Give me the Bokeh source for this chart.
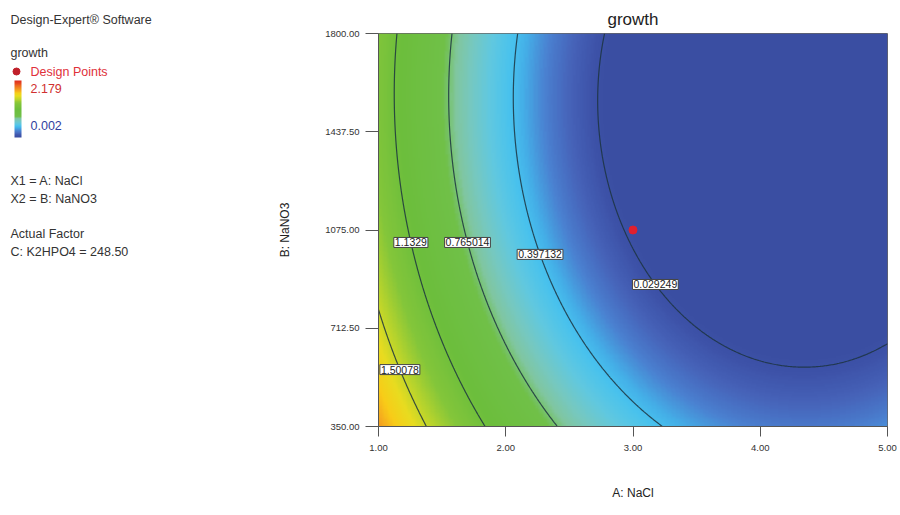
import numpy as np
from bokeh.plotting import figure
from bokeh.models import Range1d, FixedTicker, NumeralTickFormatter, LinearColorMapper, ColumnDataSource
from bokeh.layouts import row
from bokeh.embed import file_html
from bokeh.resources import INLINE
from bokeh.core.properties import value

# ---------------- data ----------------
title_text = "growth"
x_label = "A: NaCl"
y_label = "B: NaNO3"
nacl_ticks = [1.0, 2.0, 3.0, 4.0, 5.0]
nano3_ticks = [350.0, 712.5, 1075.0, 1437.5, 1800.0]
contour_levels = [0.029249, 0.397132, 0.765014, 1.1329, 1.50078]
contour_texts = ["0.029249", "0.397132", "0.765014", "1.1329", "1.50078"]
response_min = 0.002
response_max = 2.179
design_nacl = [3.0]
design_nano3 = [1075.0]

# contour crossings (NaCl, NaNO3, growth level)
read_nacl = [1.378, 1.0, 1.157, 1.213,
             1.157, 1.244, 1.827, 1.11, 1.646,
             1.583, 1.717, 2.40, 1.551, 2.173,
             2.094, 2.276, 3.197, 2.055, 2.866,
             2.787, 2.921, 3.181, 4.323, 5.0, 2.69]
read_nano3 = [350.0, 778.0, 560.0, 520.0,
              1800.0, 1029.0, 350.0, 1553.0, 520.0,
              1800.0, 1029.0, 350.0, 1553.0, 520.0,
              1800.0, 985.0, 350.0, 1553.0, 520.0,
              1800.0, 1080.0, 874.0, 557.0, 667.0, 1553.0]
read_growth = [1.50078, 1.50078, 1.50078, 1.50078,
               1.1329, 1.1329, 1.1329, 1.1329, 1.1329,
               0.765014, 0.765014, 0.765014, 0.765014, 0.765014,
               0.397132, 0.397132, 0.397132, 0.397132, 0.397132,
               0.029249, 0.029249, 0.029249, 0.029249, 0.029249, 0.029249]

software_text = "Design-Expert\u00ae Software"
design_points_text = "Design Points"
legend_lines = ["X1 = A: NaCl", "X2 = B: NaNO3"]
factor_lines = ["Actual Factor", "C: K2HPO4 = 248.50"]

# ---------------- model fit (quadratic response surface) ----------------
def coded(x, y):
    return (np.asarray(x) - 3.0) / 2.0, (np.asarray(y) - 1075.0) / 725.0

cx, cy = coded(read_nacl, read_nano3)
M = np.column_stack([np.ones_like(cx), cx, cy, cx * cx, cy * cy, cx * cy])
coef, *_ = np.linalg.lstsq(M, np.array(read_growth), rcond=None)

def model(x, y):
    X, Y = coded(x, y)
    return coef[0] + coef[1] * X + coef[2] * Y + coef[3] * X * X + coef[4] * Y * Y + coef[5] * X * Y

xs = np.linspace(1, 5, 401)
ys = np.linspace(350, 1800, 301)
XX, YY = np.meshgrid(xs, ys)
Z = model(XX, YY)

# ---------------- palette ----------------
stops = [(0.00, "#3a4ea2"), (0.02, "#3d52a8"), (0.06, "#4662b8"), (0.11, "#4a80d0"),
         (0.16, "#44b0e8"), (0.19, "#48c2ee"), (0.24, "#60c8e0"), (0.29, "#76c8c0"),
         (0.33, "#80c6a0"), (0.37, "#70c048"), (0.50, "#6cbe3c"), (0.60, "#84c63a"),
         (0.67, "#b8d42c"), (0.73, "#e8dc20"), (0.79, "#f8cc18"), (0.85, "#f49c20"),
         (0.92, "#ec6420"), (1.00, "#e03020")]

def hex2rgb(h):
    return np.array([int(h[i:i + 2], 16) for i in (1, 3, 5)], dtype=float)

pos = np.array([s[0] for s in stops])
rgbs = np.array([hex2rgb(s[1]) for s in stops])
palette = []
for t in np.linspace(0, 1, 256):
    c = [np.interp(t, pos, rgbs[:, k]) for k in range(3)]
    palette.append("#%02x%02x%02x" % tuple(int(round(v)) for v in c))

mapper = LinearColorMapper(palette=palette, low=response_min, high=response_max,
                           low_color=palette[0], high_color=palette[-1])

FONT = "Liberation Sans"
TXT = "#333333"

# ---------------- main plot ----------------
p = figure(width=630, height=515, x_range=Range1d(1, 5), y_range=Range1d(350, 1800),
           output_backend="svg", toolbar_location=None,
           min_border_left=108, min_border_right=13, min_border_top=33, min_border_bottom=89)
p.title.text = title_text
p.title.align = "center"
p.title.text_font = FONT
p.title.text_font_size = "17px"
p.title.text_font_style = "normal"
p.title.text_color = "#222222"

p.image(image=[Z], x=1, y=350, dw=4, dh=1450, color_mapper=mapper)
p.contour(xs, ys, Z, levels=contour_levels, line_color="#1c3440", line_width=1.2, line_alpha=0.85)

# contour labels placed on the left branch of each contour
label_nano3 = [874.0, 985.0, 1029.0, 1029.0, 560.0]
lx, ly = [], []
fine = np.linspace(1, 5, 4001)
for lev, yv in zip(contour_levels, label_nano3):
    vals = model(fine, np.full_like(fine, yv))
    i = int(np.argmax(vals < lev))
    if i > 0:
        x0 = fine[i - 1] + (fine[i] - fine[i - 1]) * (vals[i - 1] - lev) / (vals[i - 1] - vals[i])
    else:
        x0 = fine[0]
    lx.append(x0)
    ly.append(yv)
lab_src = ColumnDataSource(dict(x=lx, y=ly, t=contour_texts))
p.text(x="x", y="y", text="t", source=lab_src, text_font=value(FONT), text_font_size="10.5px",
       text_color="#222222", text_align="center", text_baseline="middle",
       background_fill_color="white", border_line_color="#444444", border_line_width=1, padding=1)

p.scatter(x=design_nacl, y=design_nano3, marker="circle", size=8, color="#e0202e")

p.grid.visible = False
p.outline_line_color = "#666666"
p.background_fill_color = "white"

p.xaxis.ticker = FixedTicker(ticks=nacl_ticks)
p.yaxis.ticker = FixedTicker(ticks=nano3_ticks)
p.xaxis.formatter = NumeralTickFormatter(format="0.00")
p.yaxis.formatter = NumeralTickFormatter(format="0.00")
p.xaxis.axis_label = x_label
p.yaxis.axis_label = y_label
for ax in (p.xaxis[0], p.yaxis[0]):
    ax.major_tick_in = 0
    ax.minor_tick_out = 0
    ax.minor_tick_in = 0
    ax.axis_line_color = "#555555"
    ax.major_tick_line_color = "#555555"
    ax.major_label_text_font = FONT
    ax.major_label_text_font_size = "9.5px"
    ax.major_label_text_color = TXT
    ax.axis_label_text_font = FONT
    ax.axis_label_text_font_size = "12px"
    ax.axis_label_text_font_style = "normal"
    ax.axis_label_text_color = "#222222"
p.xaxis.major_tick_out = 10
p.yaxis.major_tick_out = 13
p.xaxis.major_label_standoff = 8
p.yaxis.major_label_standoff = 6
p.xaxis.axis_label_standoff = 32
p.yaxis.axis_label_standoff = 30

# ---------------- left info panel ----------------
# frame aligned with the main plot frame (pixel rows 33..426); data y = 515 - pixel row
H = 515
FS = "12.5px"
q = figure(width=270, height=H, x_range=Range1d(0, 270), y_range=Range1d(H - 426, H - 33),
           output_backend="svg", toolbar_location=None, x_axis_type=None, y_axis_type=None,
           min_border_left=0, min_border_right=0, min_border_top=33, min_border_bottom=89)
q.grid.visible = False
q.outline_line_color = None
q.title.text = software_text
q.title.align = "left"
q.title.offset = 10
q.title.text_font = FONT
q.title.text_font_size = FS
q.title.text_font_style = "normal"
q.title.text_color = TXT
q.title.standoff = 14

def put(x, y, s, color=TXT, size=FS):
    q.text(x=[x], y=[H - y], text=[s], text_font=value(FONT), text_font_size=size,
           text_color=color, text_baseline="middle", text_align="left")

put(10, 52, title_text)
q.scatter(x=[16], y=[H - 71], marker="circle", size=7, color="#c0202a")
put(30, 71, design_points_text, color="#e0303a")
cb = np.linspace(response_min, response_max, 64).reshape(-1, 1)
q.image(image=[cb], x=14, y=H - 137, dw=7, dh=57, color_mapper=mapper)
put(30, 88, "%.3f" % response_max, color="#d03030")
put(30, 125, "%.3f" % response_min, color="#3040a0")
put(10, 180, legend_lines[0])
put(10, 198, legend_lines[1])
put(10, 233, factor_lines[0])
put(10, 251, factor_lines[1])

layout = row(q, p)
open("out.html", "w").write(file_html(layout, INLINE))
